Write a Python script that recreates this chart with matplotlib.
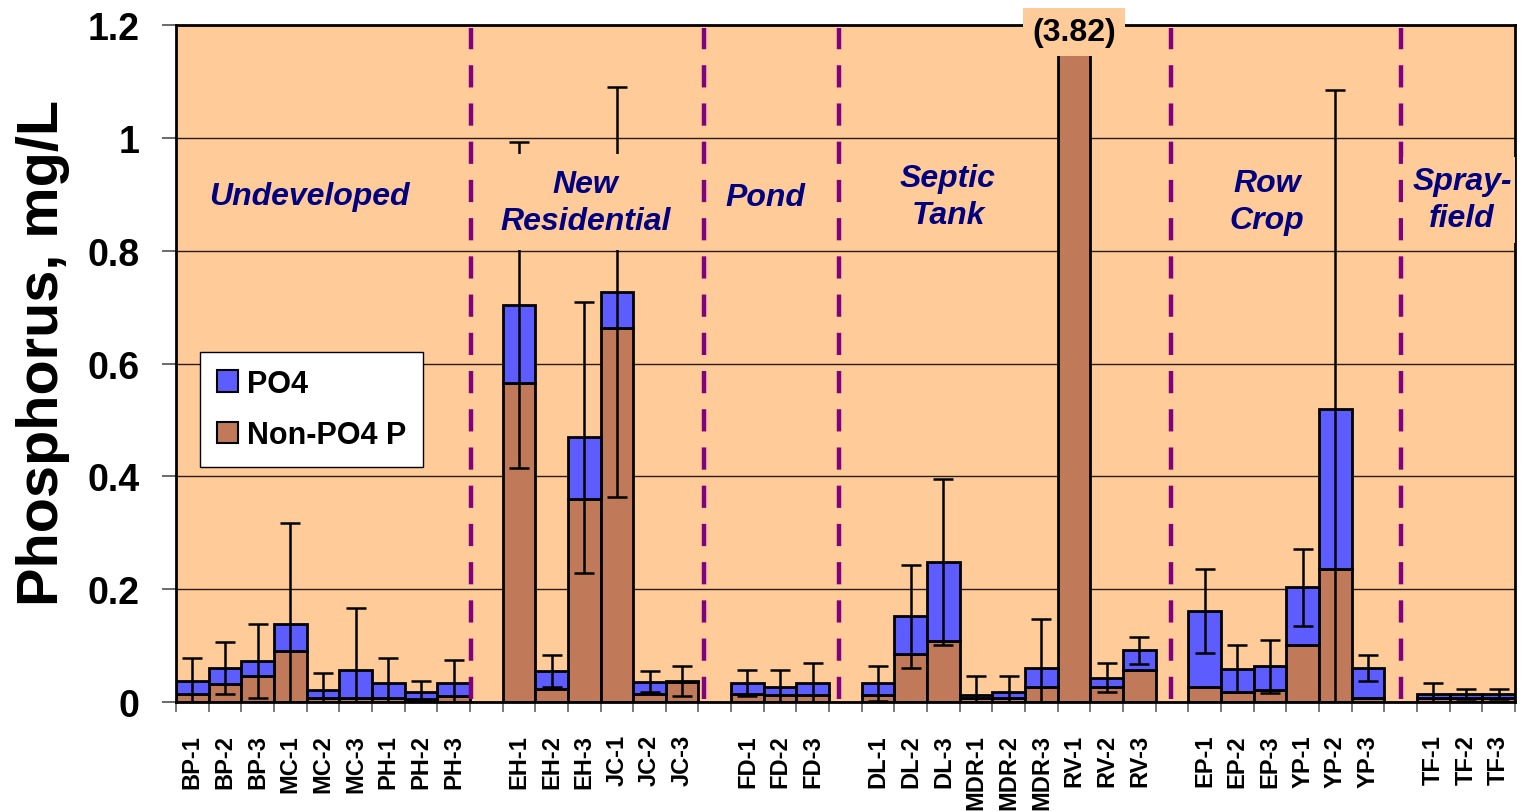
import numpy as np
import matplotlib
matplotlib.use('Agg')
import matplotlib.pyplot as plt
from matplotlib.patches import Patch

plt.rcParams['font.family'] = ['Liberation Sans', 'DejaVu Sans']

# site groups (land use) and their sample sites
groups = ['Undeveloped', 'New\nResidential', 'Pond', 'Septic\nTank', 'Row\nCrop', 'Spray-\nfield']
sites = [
    ['BP-1', 'BP-2', 'BP-3', 'MC-1', 'MC-2', 'MC-3', 'PH-1', 'PH-2', 'PH-3'],
    ['EH-1', 'EH-2', 'EH-3', 'JC-1', 'JC-2', 'JC-3'],
    ['FD-1', 'FD-2', 'FD-3'],
    ['DL-1', 'DL-2', 'DL-3', 'MDR-1', 'MDR-2', 'MDR-3', 'RV-1', 'RV-2', 'RV-3'],
    ['EP-1', 'EP-2', 'EP-3', 'YP-1', 'YP-2', 'YP-3'],
    ['TF-1', 'TF-2', 'TF-3'],
]

# mean values, mg/L
non_po4 = [0.014, 0.032, 0.046, 0.091, 0.008, 0.007, 0.008, 0.005, 0.010,
           0.566, 0.023, 0.360, 0.663, 0.014, 0.035,
           0.015, 0.013, 0.013,
           0.013, 0.085, 0.109, 0.007, 0.007, 0.027, 3.82, 0.027, 0.056,
           0.026, 0.017, 0.022, 0.101, 0.235, 0.008,
           0.008, 0.007, 0.007]
po4 = [0.023, 0.028, 0.027, 0.047, 0.014, 0.049, 0.025, 0.013, 0.023,
       0.138, 0.032, 0.109, 0.064, 0.022, 0.002,
       0.018, 0.014, 0.020,
       0.020, 0.067, 0.139, 0.006, 0.011, 0.033, 0.0, 0.016, 0.036,
       0.135, 0.042, 0.041, 0.102, 0.285, 0.052,
       0.006, 0.007, 0.007]
err = [0.041, 0.046, 0.065, 0.179, 0.029, 0.110, 0.045, 0.019, 0.041,
       0.289, 0.028, 0.240, 0.363, 0.019, 0.027,
       0.023, 0.029, 0.036,
       0.031, 0.091, 0.147, 0.033, 0.028, 0.087, 0.0, 0.026, 0.024,
       0.074, 0.042, 0.047, 0.068, 0.565, 0.023,
       0.019, 0.009, 0.009]

# x positions: one empty slot between groups
xpos = []
labels = []
slot = 0
for g in sites:
    for s in g:
        xpos.append(slot)
        labels.append(s)
        slot += 1
    slot += 1
nslots = slot - 1
xpos = np.array(xpos)
non_po4 = np.array(non_po4)
po4 = np.array(po4)
total = non_po4 + po4

fig = plt.figure(figsize=(15.34, 8.12), dpi=100)
ax = fig.add_axes([0.1147, 0.1342, 0.8729, 0.8338])
ax.set_facecolor('#ffcc99')

ax.set_xlim(-0.5, nslots - 0.5)
ax.set_ylim(0, 1.2)
ax.set_yticks([0, 0.2, 0.4, 0.6, 0.8, 1.0, 1.2])
ax.set_yticklabels(['0', '0.2', '0.4', '0.6', '0.8', '1', '1.2'])
ax.yaxis.grid(True, color='#2a1a10', linewidth=1.0)
ax.set_axisbelow(True)

brown = '#c07a5a'
blue = '#5c5cff'
ax.bar(xpos, non_po4, width=1.0, color=brown, edgecolor='black', linewidth=2.0, zorder=2)
ax.bar(xpos, po4, width=1.0, bottom=non_po4, color=blue, edgecolor='black', linewidth=2.0, zorder=2)

errs = np.array(err)
m = errs > 0
ax.errorbar(xpos[m], total[m], yerr=errs[m], fmt='none', ecolor='black',
            elinewidth=1.8, capsize=7.5, capthick=1.8, zorder=3)

# dashed separators between land-use groups
for sep in [8.54, 15.67, 19.79, 29.96, 37.01]:
    ax.plot([sep, sep], [0.005, 1.195], color='#800080', linewidth=3.2,
            linestyle=(0, (5, 3.6)), zorder=4)

# group labels (text sits on a peach box that hides lines behind it)
label_x = [3.6, 12.04, 17.55, 23.14, 32.9, 38.88]
label_y = [0.897, 0.886, 0.895, 0.896, 0.887, 0.89]
label_pad = [0.3, 0.45, 0.3, 0.3, 0.3, 0.3]
for gname, gx, gy, gp in zip(groups, label_x, label_y, label_pad):
    ax.text(gx, gy, gname, ha='center', va='center', fontsize=23,
            fontweight='bold', fontstyle='italic', color='#000080',
            linespacing=1.3, zorder=5, clip_on=True,
            bbox=dict(boxstyle='square,pad=%.2f' % gp, facecolor='#ffcc99', edgecolor='none'))

# off-scale value of RV-1
rv_idx = labels.index('RV-1')
ax.text(xpos[rv_idx], 1.188, '(3.82)', ha='center', va='center', fontsize=23,
        fontweight='bold', zorder=6, clip_on=False,
        bbox=dict(boxstyle='square,pad=0.28', facecolor='#ffcc99', edgecolor='none'))

# ticks
ax.set_xticks(xpos)
ax.set_xticklabels(labels, rotation=90, fontsize=17, fontweight='bold')
ax.set_xticks(np.arange(-0.5, nslots, 1.0), minor=True)
ax.tick_params(axis='x', which='major', length=0, pad=23)
ax.tick_params(axis='x', which='minor', length=7, width=1.3, color='#707070', direction='out')
ax.tick_params(axis='y', length=10, width=1.2, color='#505050', labelsize=27, pad=16)
for t in ax.get_yticklabels():
    t.set_fontweight('bold')

for sp in ax.spines.values():
    sp.set_linewidth(2)
    sp.set_color('black')

ax.set_ylabel('Phosphorus, mg/L', fontsize=41.5, fontweight='bold')
ax.yaxis.set_label_coords(-0.079, 0.517)

handles = [Patch(facecolor=blue, edgecolor='black', linewidth=1.5, label='PO4'),
           Patch(facecolor=brown, edgecolor='black', linewidth=1.5, label='Non-PO4 P')]
leg = ax.legend(handles=handles, loc='upper left', bbox_to_anchor=(0.018, 0.517),
                prop={'weight': 'bold', 'size': 22}, frameon=True, fancybox=False,
                handlelength=0.7, handleheight=0.7, handletextpad=0.3,
                labelspacing=0.7, borderpad=0.55, borderaxespad=0)
leg.get_frame().set_edgecolor('black')
leg.get_frame().set_linewidth(1.0)
leg.get_frame().set_facecolor('white')
leg.get_frame().set_alpha(1)
leg.set_zorder(7)

fig.savefig('out.png', dpi=100)
